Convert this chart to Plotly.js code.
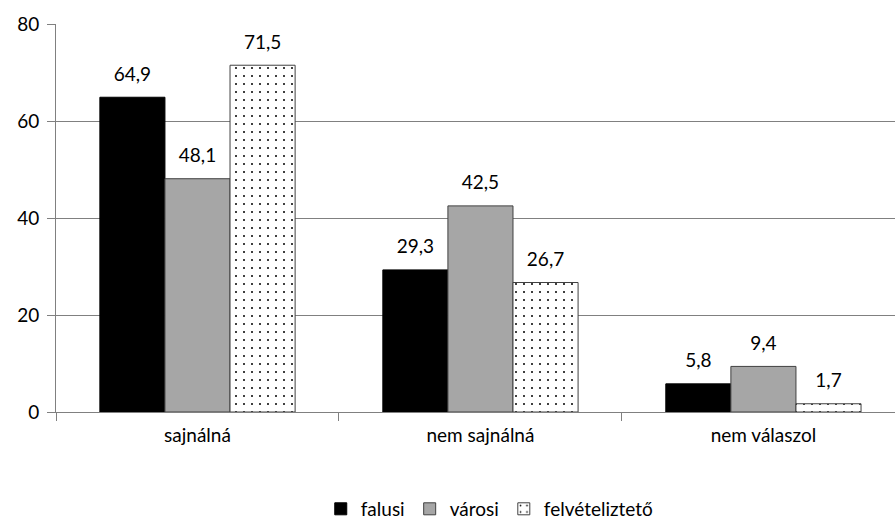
<!DOCTYPE html>
<html><head><meta charset="utf-8">
<script src="https://cdn.plot.ly/plotly-3.0.1.min.js"></script>
<style>html,body{margin:0;padding:0;background:#fff}#chart{width:895px;height:522px}</style>
</head><body><div id="chart"></div>
<script>
const categories = ["sajnálná", "nem sajnálná", "nem válaszol"];
const falusi = [64.9, 29.3, 5.8];
const varosi = [48.1, 42.5, 9.4];
const felveteliztető = [71.5, 26.7, 1.7];
const seriesNames = ["falusi", "városi", "felvételiztető"];

const font = {family: "Lato, 'Open Sans', sans-serif", size: 19, color: "#000"};
const smallFont = {family: font.family, size: 9, color: "#000"};
const common = {type: "bar", x: categories,
  texttemplate: "<span style='font-size:19px'>%{y:.1f}</span><br> ",
  textposition: "outside", textfont: smallFont, cliponaxis: false, hoverinfo: "skip"};
const traces = [
  Object.assign({}, common, {name: seriesNames[0], y: falusi,
    marker: {color: "#000000", line: {color: "#000000", width: 1}}}),
  Object.assign({}, common, {name: seriesNames[1], y: varosi,
    marker: {color: "#a6a6a6", line: {color: "#404040", width: 1}}}),
  Object.assign({}, common, {name: seriesNames[2], y: felveteliztető,
    marker: {color: "#ffffff", line: {color: "#404040", width: 1},
      pattern: {shape: ".", size: 8, solidity: 0.05, fgcolor: "#000", bgcolor: "#fff"}}})
];
const layout = {
  width: 895, height: 522,
  margin: {l: 56, r: 0, t: 24, b: 110, autoexpand: false},
  paper_bgcolor: "#fff", plot_bgcolor: "#fff",
  font: font, separators: ",.",
  barmode: "group", bargap: 0.31, bargroupgap: 0,
  showlegend: true,
  legend: {orientation: "h", x: 0.517, xanchor: "center", yref: "container", y: 0.025, yanchor: "middle",
    font: font, traceorder: "normal", itemwidth: 30},
  xaxis: {type: "category", range: [-0.5, 2.465], tickson: "boundaries", ticks: "outside",
    ticklen: 8, tickcolor: "#808080", showline: true, linecolor: "#808080", linewidth: 1,
    showgrid: false, tickfont: font, zeroline: false, automargin: false, ticklabelstandoff: 6},
  yaxis: {range: [0, 80], dtick: 20, ticks: "outside", ticklen: 8, tickcolor: "#808080",
    showline: true, linecolor: "#808080", showgrid: true, gridcolor: "#808080", gridwidth: 1,
    zeroline: false, tickfont: font, automargin: false, ticklabelstandoff: 4}
};
Plotly.newPlot("chart", traces, layout, {staticPlot: true});
</script></body></html>
